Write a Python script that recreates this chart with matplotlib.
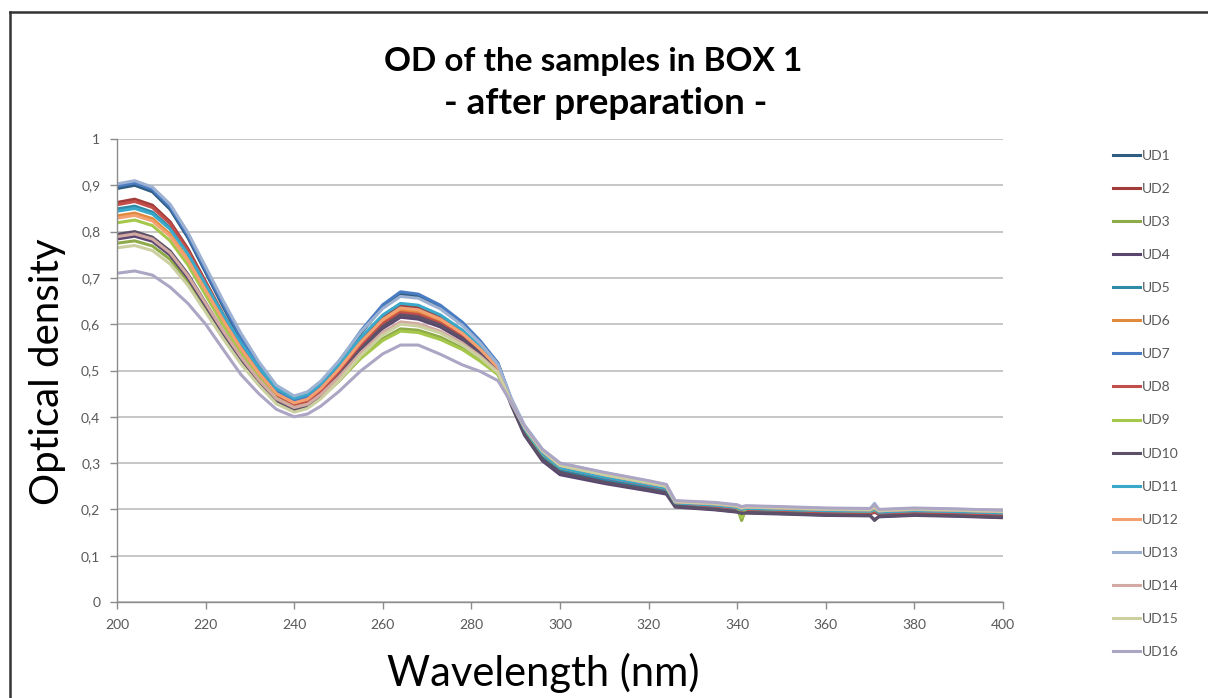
import matplotlib
matplotlib.use("Agg")
import matplotlib.pyplot as plt
from matplotlib.ticker import FuncFormatter
from matplotlib.lines import Line2D

plt.rcParams['font.family'] = ['Lato', 'DejaVu Sans']

wl = [200, 204, 208, 212, 216, 220, 224, 228, 232, 236,
      240, 243, 246, 250, 255, 260, 264, 268,
      273, 278, 282, 286, 289, 292, 296, 300,
      310, 320, 324, 326,
      335, 340, 341, 342, 350, 360, 370, 371, 372, 380, 390, 400]

ud1 = [0.893, 0.900, 0.886, 0.848, 0.787, 0.712, 0.637, 0.566, 0.505, 0.454,
       0.430, 0.439, 0.465, 0.512, 0.580, 0.637, 0.665, 0.660,
       0.637, 0.601, 0.562, 0.515, 0.435, 0.370, 0.315, 0.285,
       0.265, 0.248, 0.240, 0.212,
       0.207, 0.201, 0.197, 0.200, 0.197, 0.194, 0.193, 0.197, 0.191, 0.194, 0.192, 0.188]
ud2 = [0.863, 0.870, 0.857, 0.821, 0.763, 0.692, 0.621, 0.554, 0.496, 0.447,
       0.425, 0.434, 0.457, 0.500, 0.563, 0.614, 0.640, 0.636,
       0.615, 0.583, 0.549, 0.507, 0.430, 0.372, 0.318, 0.285,
       0.266, 0.249, 0.241, 0.210,
       0.205, 0.200, 0.196, 0.198, 0.195, 0.192, 0.190, 0.194, 0.189, 0.192, 0.190, 0.186]
ud3 = [0.775, 0.780, 0.769, 0.740, 0.692, 0.634, 0.576, 0.521, 0.473, 0.433,
       0.415, 0.422, 0.441, 0.476, 0.527, 0.569, 0.590, 0.587,
       0.572, 0.548, 0.523, 0.492, 0.428, 0.372, 0.322, 0.290,
       0.270, 0.253, 0.245, 0.214,
       0.210, 0.204, 0.176, 0.203, 0.201, 0.198, 0.196, 0.200, 0.195, 0.198, 0.196, 0.193]
ud4 = [0.784, 0.790, 0.779, 0.749, 0.700, 0.640, 0.580, 0.524, 0.475, 0.434,
       0.415, 0.423, 0.445, 0.485, 0.543, 0.591, 0.615, 0.611,
       0.594, 0.566, 0.536, 0.500, 0.425, 0.360, 0.305, 0.275,
       0.256, 0.240, 0.233, 0.205,
       0.199, 0.194, 0.190, 0.192, 0.190, 0.187, 0.186, 0.178, 0.184, 0.187, 0.185, 0.182]
ud5 = [0.849, 0.855, 0.842, 0.808, 0.753, 0.685, 0.617, 0.553, 0.498, 0.451,
       0.430, 0.438, 0.461, 0.502, 0.561, 0.610, 0.635, 0.631,
       0.611, 0.580, 0.546, 0.506, 0.432, 0.368, 0.315, 0.285,
       0.265, 0.248, 0.241, 0.211,
       0.206, 0.201, 0.198, 0.199, 0.197, 0.194, 0.192, 0.196, 0.191, 0.194, 0.192, 0.189]
ud6 = [0.834, 0.840, 0.828, 0.794, 0.740, 0.674, 0.608, 0.545, 0.491, 0.446,
       0.425, 0.433, 0.456, 0.497, 0.556, 0.605, 0.630, 0.626,
       0.607, 0.576, 0.544, 0.504, 0.433, 0.374, 0.322, 0.290,
       0.270, 0.253, 0.246, 0.214,
       0.209, 0.204, 0.200, 0.202, 0.200, 0.197, 0.195, 0.199, 0.194, 0.197, 0.195, 0.191]
ud7 = [0.898, 0.905, 0.891, 0.853, 0.792, 0.717, 0.642, 0.571, 0.510, 0.459,
       0.435, 0.444, 0.470, 0.517, 0.585, 0.642, 0.670, 0.665,
       0.641, 0.604, 0.564, 0.516, 0.438, 0.375, 0.320, 0.290,
       0.269, 0.252, 0.244, 0.213,
       0.208, 0.203, 0.199, 0.201, 0.199, 0.196, 0.194, 0.198, 0.193, 0.196, 0.194, 0.191]
ud8 = [0.858, 0.865, 0.852, 0.817, 0.759, 0.689, 0.619, 0.553, 0.495, 0.447,
       0.425, 0.433, 0.455, 0.495, 0.553, 0.601, 0.625, 0.621,
       0.602, 0.573, 0.541, 0.503, 0.432, 0.372, 0.320, 0.290,
       0.270, 0.252, 0.245, 0.213,
       0.207, 0.202, 0.198, 0.200, 0.198, 0.194, 0.193, 0.196, 0.192, 0.194, 0.192, 0.189]
ud9 = [0.819, 0.825, 0.813, 0.780, 0.728, 0.663, 0.598, 0.537, 0.485, 0.440,
       0.420, 0.427, 0.445, 0.478, 0.526, 0.565, 0.585, 0.582,
       0.567, 0.545, 0.520, 0.491, 0.428, 0.370, 0.320, 0.290,
       0.271, 0.254, 0.246, 0.215,
       0.210, 0.205, 0.182, 0.203, 0.200, 0.198, 0.196, 0.199, 0.195, 0.198, 0.196, 0.193]
ud10 = [0.794, 0.800, 0.788, 0.758, 0.708, 0.646, 0.584, 0.527, 0.477, 0.434,
        0.415, 0.423, 0.446, 0.487, 0.546, 0.595, 0.620, 0.616,
        0.598, 0.569, 0.538, 0.501, 0.427, 0.362, 0.308, 0.280,
        0.259, 0.243, 0.236, 0.207,
        0.200, 0.195, 0.191, 0.193, 0.191, 0.188, 0.187, 0.176, 0.185, 0.188, 0.186, 0.183]
ud11 = [0.844, 0.850, 0.838, 0.805, 0.752, 0.686, 0.620, 0.559, 0.506, 0.461,
        0.440, 0.448, 0.471, 0.512, 0.571, 0.620, 0.645, 0.641,
        0.620, 0.587, 0.551, 0.509, 0.436, 0.374, 0.321, 0.290,
        0.270, 0.253, 0.246, 0.214,
        0.209, 0.204, 0.200, 0.202, 0.200, 0.197, 0.196, 0.200, 0.194, 0.197, 0.195, 0.192]
ud12 = [0.829, 0.835, 0.823, 0.790, 0.738, 0.673, 0.608, 0.547, 0.495, 0.450,
        0.430, 0.438, 0.461, 0.502, 0.561, 0.610, 0.635, 0.631,
        0.611, 0.580, 0.546, 0.506, 0.435, 0.378, 0.326, 0.295,
        0.275, 0.257, 0.250, 0.216,
        0.212, 0.207, 0.203, 0.205, 0.203, 0.200, 0.199, 0.203, 0.197, 0.200, 0.198, 0.195]
ud13 = [0.903, 0.910, 0.896, 0.859, 0.798, 0.724, 0.650, 0.580, 0.519, 0.468,
        0.445, 0.454, 0.477, 0.520, 0.583, 0.634, 0.660, 0.656,
        0.633, 0.597, 0.559, 0.513, 0.440, 0.382, 0.330, 0.300,
        0.279, 0.261, 0.253, 0.218,
        0.214, 0.209, 0.205, 0.207, 0.205, 0.202, 0.201, 0.213, 0.199, 0.202, 0.200, 0.197]
ud14 = [0.789, 0.795, 0.784, 0.754, 0.705, 0.645, 0.585, 0.529, 0.480, 0.439,
        0.420, 0.427, 0.448, 0.485, 0.538, 0.583, 0.605, 0.601,
        0.585, 0.559, 0.531, 0.497, 0.432, 0.378, 0.327, 0.295,
        0.275, 0.257, 0.250, 0.217,
        0.212, 0.207, 0.203, 0.205, 0.203, 0.200, 0.199, 0.204, 0.197, 0.200, 0.198, 0.195]
ud15 = [0.765, 0.770, 0.759, 0.730, 0.684, 0.626, 0.568, 0.514, 0.468, 0.428,
        0.410, 0.418, 0.439, 0.477, 0.532, 0.577, 0.600, 0.596,
        0.581, 0.555, 0.528, 0.495, 0.430, 0.377, 0.327, 0.295,
        0.275, 0.258, 0.250, 0.217,
        0.213, 0.208, 0.204, 0.206, 0.204, 0.201, 0.200, 0.206, 0.198, 0.201, 0.199, 0.196]
ud16 = [0.710, 0.715, 0.706, 0.680, 0.645, 0.600, 0.545, 0.491, 0.450, 0.416,
        0.400, 0.406, 0.423, 0.454, 0.499, 0.536, 0.555, 0.555,
        0.535, 0.512, 0.498, 0.478, 0.430, 0.380, 0.330, 0.300,
        0.280, 0.262, 0.254, 0.219,
        0.215, 0.210, 0.206, 0.208, 0.206, 0.203, 0.202, 0.210, 0.200, 0.203, 0.201, 0.198]

names = ["UD1", "UD2", "UD3", "UD4", "UD5", "UD6", "UD7", "UD8",
         "UD9", "UD10", "UD11", "UD12", "UD13", "UD14", "UD15", "UD16"]
series = [ud1, ud2, ud3, ud4, ud5, ud6, ud7, ud8,
          ud9, ud10, ud11, ud12, ud13, ud14, ud15, ud16]
colors = ["#2F5D82", "#A33B39", "#8FAA48", "#5B4670", "#2E8BA8", "#E08A3C",
          "#4A7CC4", "#C24E4B", "#A5C74A", "#5C5168", "#3AA9C9", "#F4A070",
          "#9DB2D3", "#D2AAA3", "#CCD0A0", "#ACA5C4"]

W, H = 1208, 698
fig = plt.figure(figsize=(W / 100, H / 100), dpi=100)
ax = fig.add_axes([117 / W, 1 - 602 / H, (1003 - 117) / W, (602 - 139) / H])

for name, ys, c in zip(names, series, colors):
    ax.plot(wl, ys, color=c, lw=2.2, label=name, solid_joinstyle='round')

ax.set_xlim(200, 400)
ax.set_ylim(0, 1)
ax.set_xticks(range(200, 401, 20))
ax.set_yticks([i / 10 for i in range(11)])

def comma(v, pos):
    if abs(v) < 1e-9:
        return "0"
    if abs(v - 1) < 1e-9:
        return "1"
    return f"{v:.1f}".replace(".", ",")

ax.yaxis.set_major_formatter(FuncFormatter(comma))
ax.grid(axis='y', color='#C6C6C6', lw=1.4)
ax.set_axisbelow(True)
for s in ['top', 'right']:
    ax.spines[s].set_visible(False)
for s in ['left', 'bottom']:
    ax.spines[s].set_color('#8C8C8C')
    ax.spines[s].set_linewidth(1.0)
ax.tick_params(axis='both', colors='#8C8C8C', length=5, width=1.0,
               labelcolor='#595959', labelsize=10)
ax.tick_params(axis='y', pad=7)
ax.tick_params(axis='x', pad=7)

fig.text(593 / W, 1 - 62 / H, "OD of the samples in BOX 1", ha='center', va='center',
         fontsize=24, fontweight='bold', color='black')
fig.text(606 / W, 1 - 104 / H, "- after preparation -", ha='center', va='center',
         fontsize=26.5, fontweight='bold', color='black')
fig.text(48 / W, 1 - 372 / H, "Optical density", rotation=90, ha='center', va='center',
         fontsize=29, color='black')
fig.text(543 / W, 1 - 673 / H, "Wavelength (nm)", ha='center', va='center',
         fontsize=30, color='black')

leg = ax.legend(loc='upper left', bbox_to_anchor=(1107 / W, 1 - 144 / H),
                bbox_transform=fig.transFigure, frameon=False, fontsize=10,
                handlelength=2.0, handletextpad=0.1, labelspacing=1.52,
                borderaxespad=0)
for t in leg.get_texts():
    t.set_color('#595959')

# outer frame (only left and top edges visible)
fig.add_artist(Line2D([10 / W, 10 / W], [0, 1 - 12 / H], transform=fig.transFigure,
                      color='#333333', lw=1.8))
fig.add_artist(Line2D([10 / W, 1], [1 - 12 / H, 1 - 12 / H], transform=fig.transFigure,
                      color='#333333', lw=1.8))

fig.savefig("out.png", dpi=100)
